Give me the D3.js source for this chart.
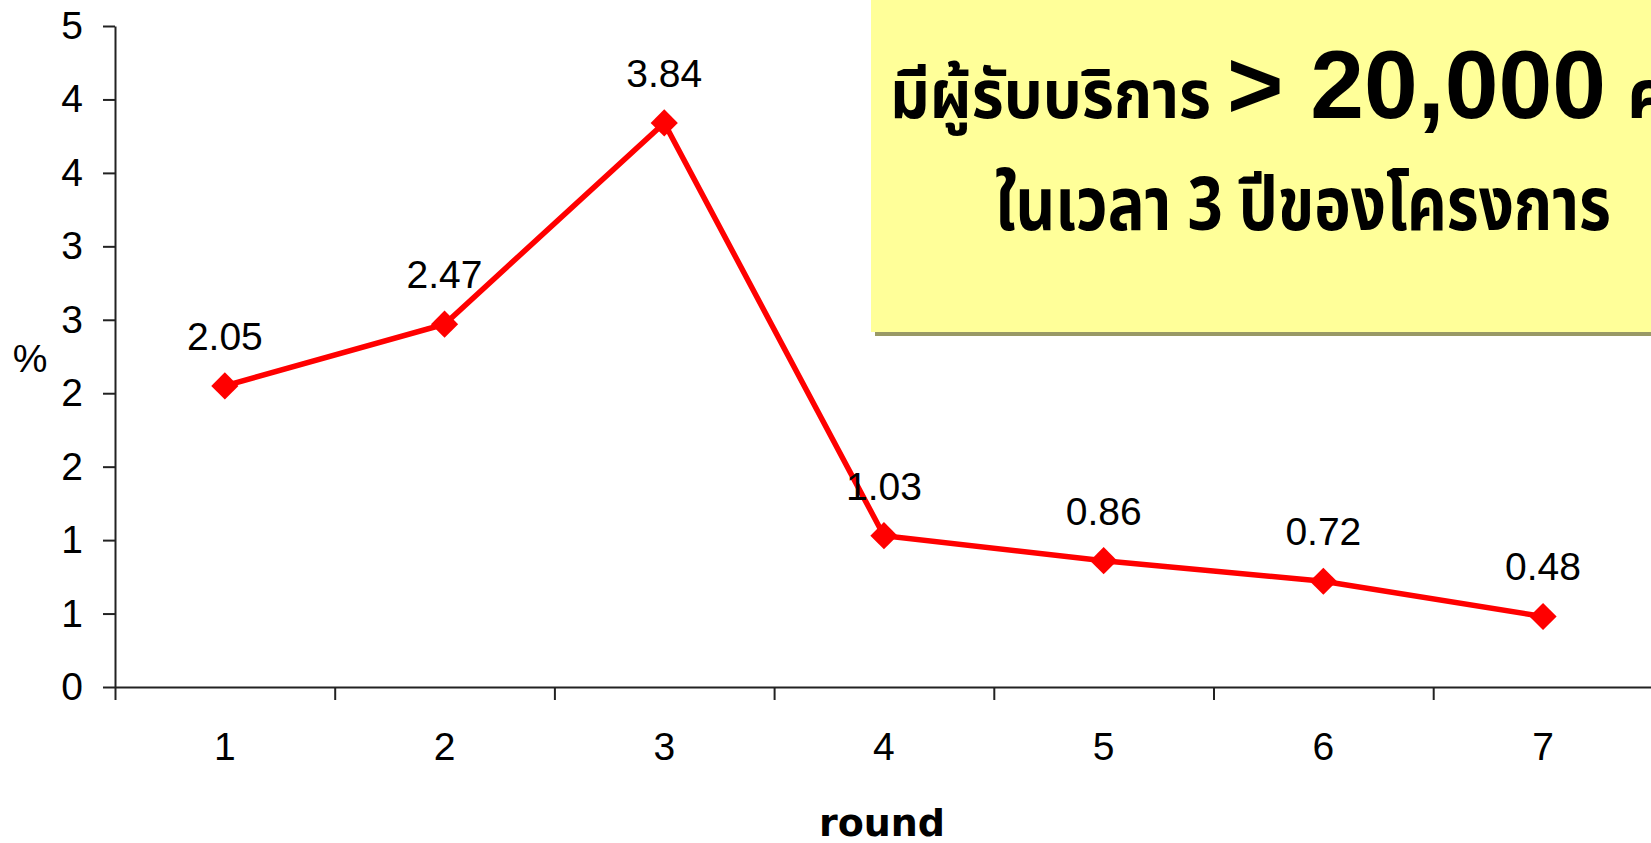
<!DOCTYPE html>
<html>
<head>
<meta charset="utf-8">
<script src="https://cdn.jsdelivr.net/npm/d3@7"></script>
<style>
  body { margin: 0; background: #fff; overflow: hidden; }
  svg { display: block; }
  .thai { font-family: "Noto Sans Thai", "Noto Serif Thai", "Tlwg Typo", "Loma", "Garuda", "Norasi", "Kinnari", sans-serif; font-weight: bold; }
</style>
</head>
<body>
<svg width="1651" height="843"></svg>
<script>
// chart values
const rounds = [1, 2, 3, 4, 5, 6, 7];
const percents = [2.05, 2.47, 3.84, 1.03, 0.86, 0.72, 0.48];
// the y axis goes by 0.5 but the labels are rounded to whole numbers
const yTickValues = [0, 0.5, 1, 1.5, 2, 2.5, 3, 3.5, 4, 4.5];
const yTickLabels = ["0", "1", "1", "2", "2", "3", "3", "4", "4", "5"];
const noteLine1 = ["มีผู้รับบริการ", "> 20,000", "คน"];
const noteLine2 = "ในเวลา 3 ปีของโครงการ";

const svg = d3.select("svg");
const plotLeft = 115, plotBottom = 687, plotTop = 26, step = 219.7;

const x = d3.scaleBand().domain(rounds).range([plotLeft, plotLeft + step * rounds.length]);
const y = d3.scaleLinear().domain([0, 4.5]).range([plotBottom, plotTop]);

// x axis: labels centred in each band, ticks on the band edges
const xEdge = d3.scaleLinear().domain([0, rounds.length]).range(x.range());
svg.append("g")
  .attr("transform", `translate(0,${plotBottom})`)
  .call(d3.axisBottom(xEdge).tickValues(d3.range(0, rounds.length + 1)).tickFormat("").tickSize(13).tickSizeOuter(0));
svg.append("g")
  .attr("class", "xlab")
  .attr("transform", `translate(0,${plotBottom})`)
  .call(d3.axisBottom(x).tickSize(0).tickPadding(45))
  .call(g => g.select(".domain").remove());

svg.append("g")
  .attr("transform", `translate(${plotLeft},0)`)
  .call(d3.axisLeft(y).tickValues(yTickValues).tickFormat((d, i) => yTickLabels[i]).tickSize(12).tickPadding(20).tickSizeOuter(0));

svg.selectAll(".domain, .tick line").attr("stroke", "#222").attr("stroke-width", 2);
svg.selectAll(".tick text").attr("fill", "#000")
  .style("font-family", "'Liberation Sans', Arial, sans-serif").style("font-size", "39px");

// line + markers
const line = d3.line().x((d, i) => x(rounds[i]) + x.bandwidth() / 2).y(d => y(d));
svg.append("path").datum(percents)
  .attr("d", line).attr("fill", "none").attr("stroke", "#ff0000").attr("stroke-width", 5.5);

const diamond = d3.symbol(d3.symbolSquare, 370);
svg.selectAll(".pt").data(percents).join("path")
  .attr("class", "pt")
  .attr("d", diamond)
  .attr("fill", "#ff0000")
  .attr("transform", (d, i) => `translate(${x(rounds[i]) + x.bandwidth() / 2},${y(d)}) rotate(45)`);

svg.selectAll(".val").data(percents).join("text")
  .attr("class", "val")
  .attr("x", (d, i) => x(rounds[i]) + x.bandwidth() / 2)
  .attr("y", d => y(d) - 36)
  .attr("text-anchor", "middle")
  .style("font-family", "'Liberation Sans', Arial, sans-serif").style("font-size", "39px")
  .text(d => d.toFixed(2));

// axis titles
svg.append("text").attr("x", 30).attr("y", 372).attr("text-anchor", "middle")
  .style("font-family", "'Liberation Sans', Arial, sans-serif").style("font-size", "39px").text("%");
svg.append("text").attr("x", 882).attr("y", 836).attr("text-anchor", "middle")
  .style("font-family", "'DejaVu Sans', sans-serif").style("font-size", "38px").style("font-weight", "bold").text("round");

// yellow note box, running off the right side
const box = svg.append("g");
box.append("rect").attr("x", 875).attr("y", -10).attr("width", 900).attr("height", 346).attr("fill", "#999966");
box.append("rect").attr("x", 871).attr("y", -10).attr("width", 900).attr("height", 342).attr("fill", "#ffff99");

box.append("text").attr("class", "thai").attr("x", 890).attr("y", 118)
  .attr("textLength", 321).attr("lengthAdjust", "spacingAndGlyphs")
  .style("font-size", "68px").text(noteLine1[0]);
box.append("text").attr("x", 1227).attr("y", 118)
  .attr("textLength", 379).attr("lengthAdjust", "spacingAndGlyphs")
  .style("font-family", "'Liberation Sans', Arial, sans-serif").style("font-size", "96px").style("font-weight", "bold")
  .text(noteLine1[1]);
box.append("text").attr("class", "thai").attr("x", 1627).attr("y", 118)
  .style("font-size", "68px").text(noteLine1[2]);
box.append("text").attr("class", "thai").attr("x", 995).attr("y", 230)
  .attr("textLength", 616).attr("lengthAdjust", "spacingAndGlyphs")
  .style("font-size", "74px").text(noteLine2);
</script>
</body>
</html>
